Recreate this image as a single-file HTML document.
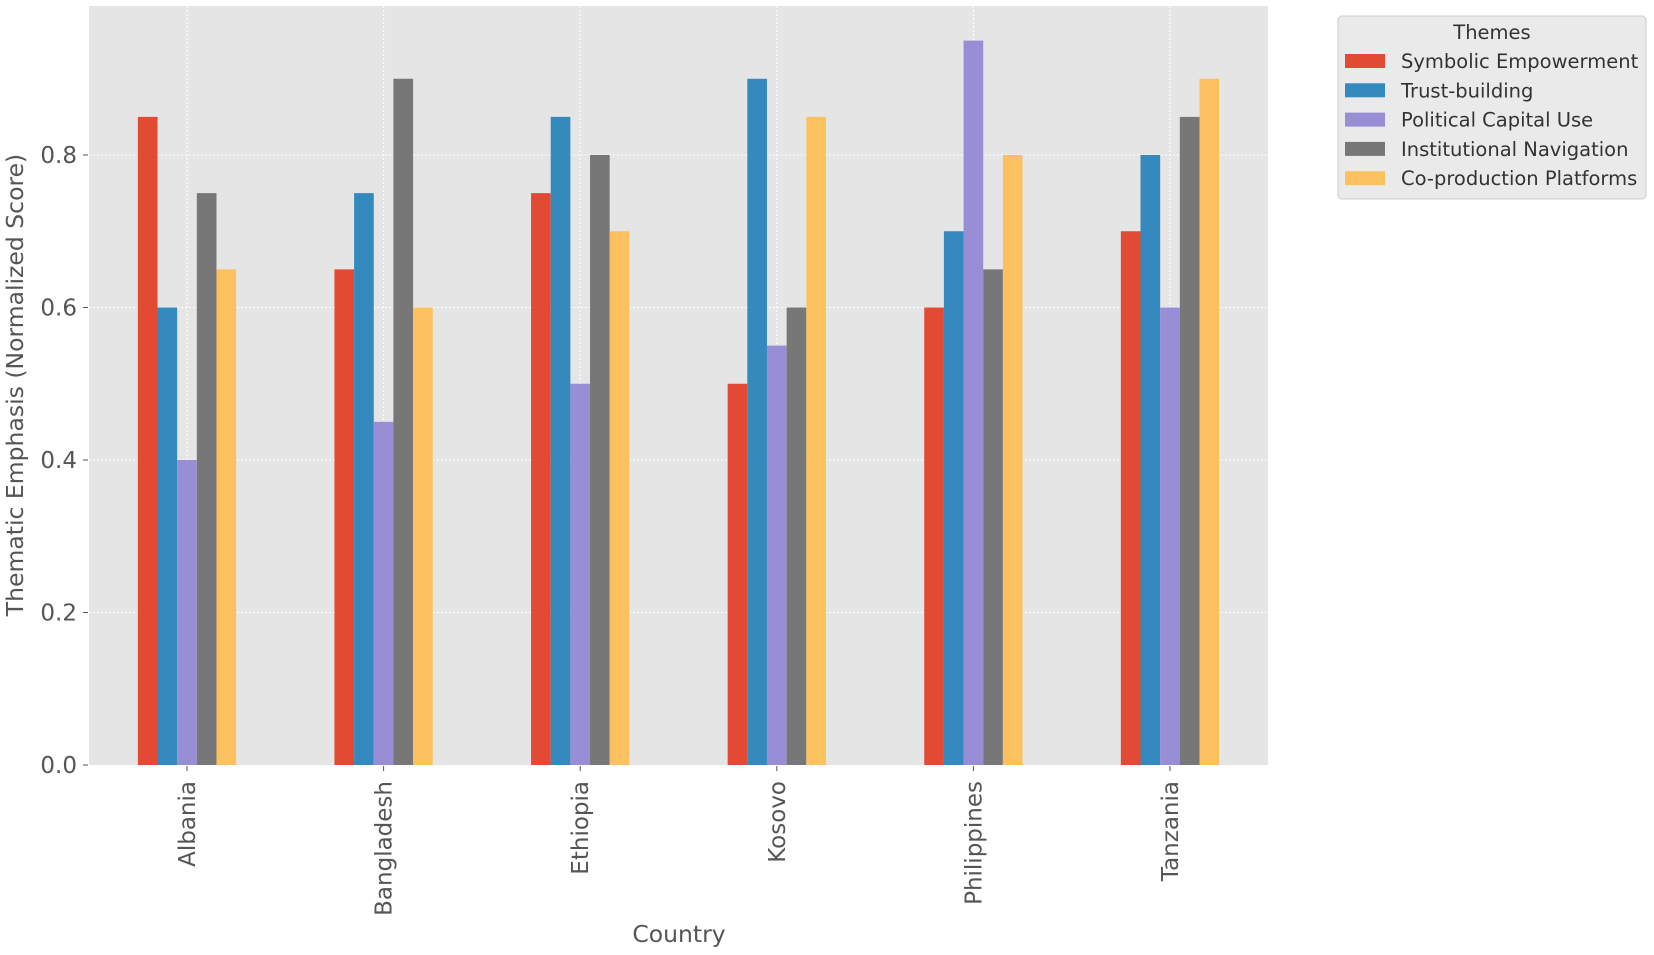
<!DOCTYPE html>
<html><head><meta charset="utf-8"><style>
body{margin:0;background:#fff;}
svg{display:block;font-family:"DejaVu Sans","Liberation Sans",sans-serif;}
</style></head><body>
<svg id="s" width="1654" height="955" xmlns="http://www.w3.org/2000/svg">
<rect x="89" y="6" width="1179" height="759" fill="#e5e5e5"/>
<g id="g"></g>
<text x="0" y="0" transform="translate(23,385) rotate(-90)" text-anchor="middle" font-size="23.5" fill="#555">Thematic Emphasis (Normalized Score)</text>
<text x="679" y="942" text-anchor="middle" font-size="23.5" fill="#555">Country</text>
<rect x="1338" y="16" width="308" height="183" rx="4" fill="#e5e5e5" fill-opacity="0.8" stroke="#ccc"/>
<text x="1492" y="39" text-anchor="middle" font-size="19.5" fill="#333">Themes</text>
</svg>
<script>
var s=document.getElementById('g'),svg=document.getElementById('s'),ns="http://www.w3.org/2000/svg";
function el(t,a,txt){var e=document.createElementNS(ns,t);for(var k in a)e.setAttribute(k,a[k]);if(txt)e.textContent=txt;return e;}
var y=v=>765-762.5*v;
for(var i=0;i<=4;i++){var v=i*0.2,yy=y(v);
 if(i>0)s.appendChild(el('line',{x1:89,x2:1268,y1:yy,y2:yy,stroke:'#fff','stroke-width':1,'stroke-dasharray':'2,2'}));
 s.appendChild(el('line',{x1:83,x2:88,y1:yy,y2:yy,stroke:'#555'}));
 s.appendChild(el('text',{x:77,y:yy+8,'text-anchor':'end','font-size':23,fill:'#555'},v.toFixed(1)));}
var names=['Albania','Bangladesh','Ethiopia','Kosovo','Philippines','Tanzania'];
var cols=['#E24A33','#348ABD','#988ED5','#777777','#FBC15E'];
var d=[[.85,.6,.4,.75,.65],[.65,.75,.45,.9,.6],[.75,.85,.5,.8,.7],[.5,.9,.55,.6,.85],[.6,.7,.95,.65,.8],[.7,.8,.6,.85,.9]];
var w=19.66;
for(var i=0;i<6;i++){var c=187+196.6*i;
 s.appendChild(el('line',{x1:c,x2:c,y1:6,y2:765,stroke:'#fff','stroke-width':1,'stroke-dasharray':'2,2'}));}
for(var i=0;i<6;i++){var c=187+196.6*i;
 for(var j=0;j<5;j++){var h=762.5*d[i][j];
  s.appendChild(el('rect',{x:c-49.15+w*j,y:765-h,width:w,height:h,fill:cols[j]}));}
 s.appendChild(el('line',{x1:c,x2:c,y1:766,y2:771,stroke:'#555'}));
 s.appendChild(el('text',{x:0,y:0,transform:'translate('+(c+8)+',781) rotate(-90)','text-anchor':'end','font-size':23,fill:'#555'},names[i]));}
var L=['Symbolic Empowerment','Trust-building','Political Capital Use','Institutional Navigation','Co-production Platforms'];
for(var j=0;j<5;j++){var yy=61+29.3*j;
 svg.appendChild(el('rect',{x:1345,y:yy-7,width:40,height:14,fill:cols[j]}));
 svg.appendChild(el('text',{x:1401,y:yy+7,'font-size':19.5,fill:'#333'},L[j]));}
</script>
</body></html>
